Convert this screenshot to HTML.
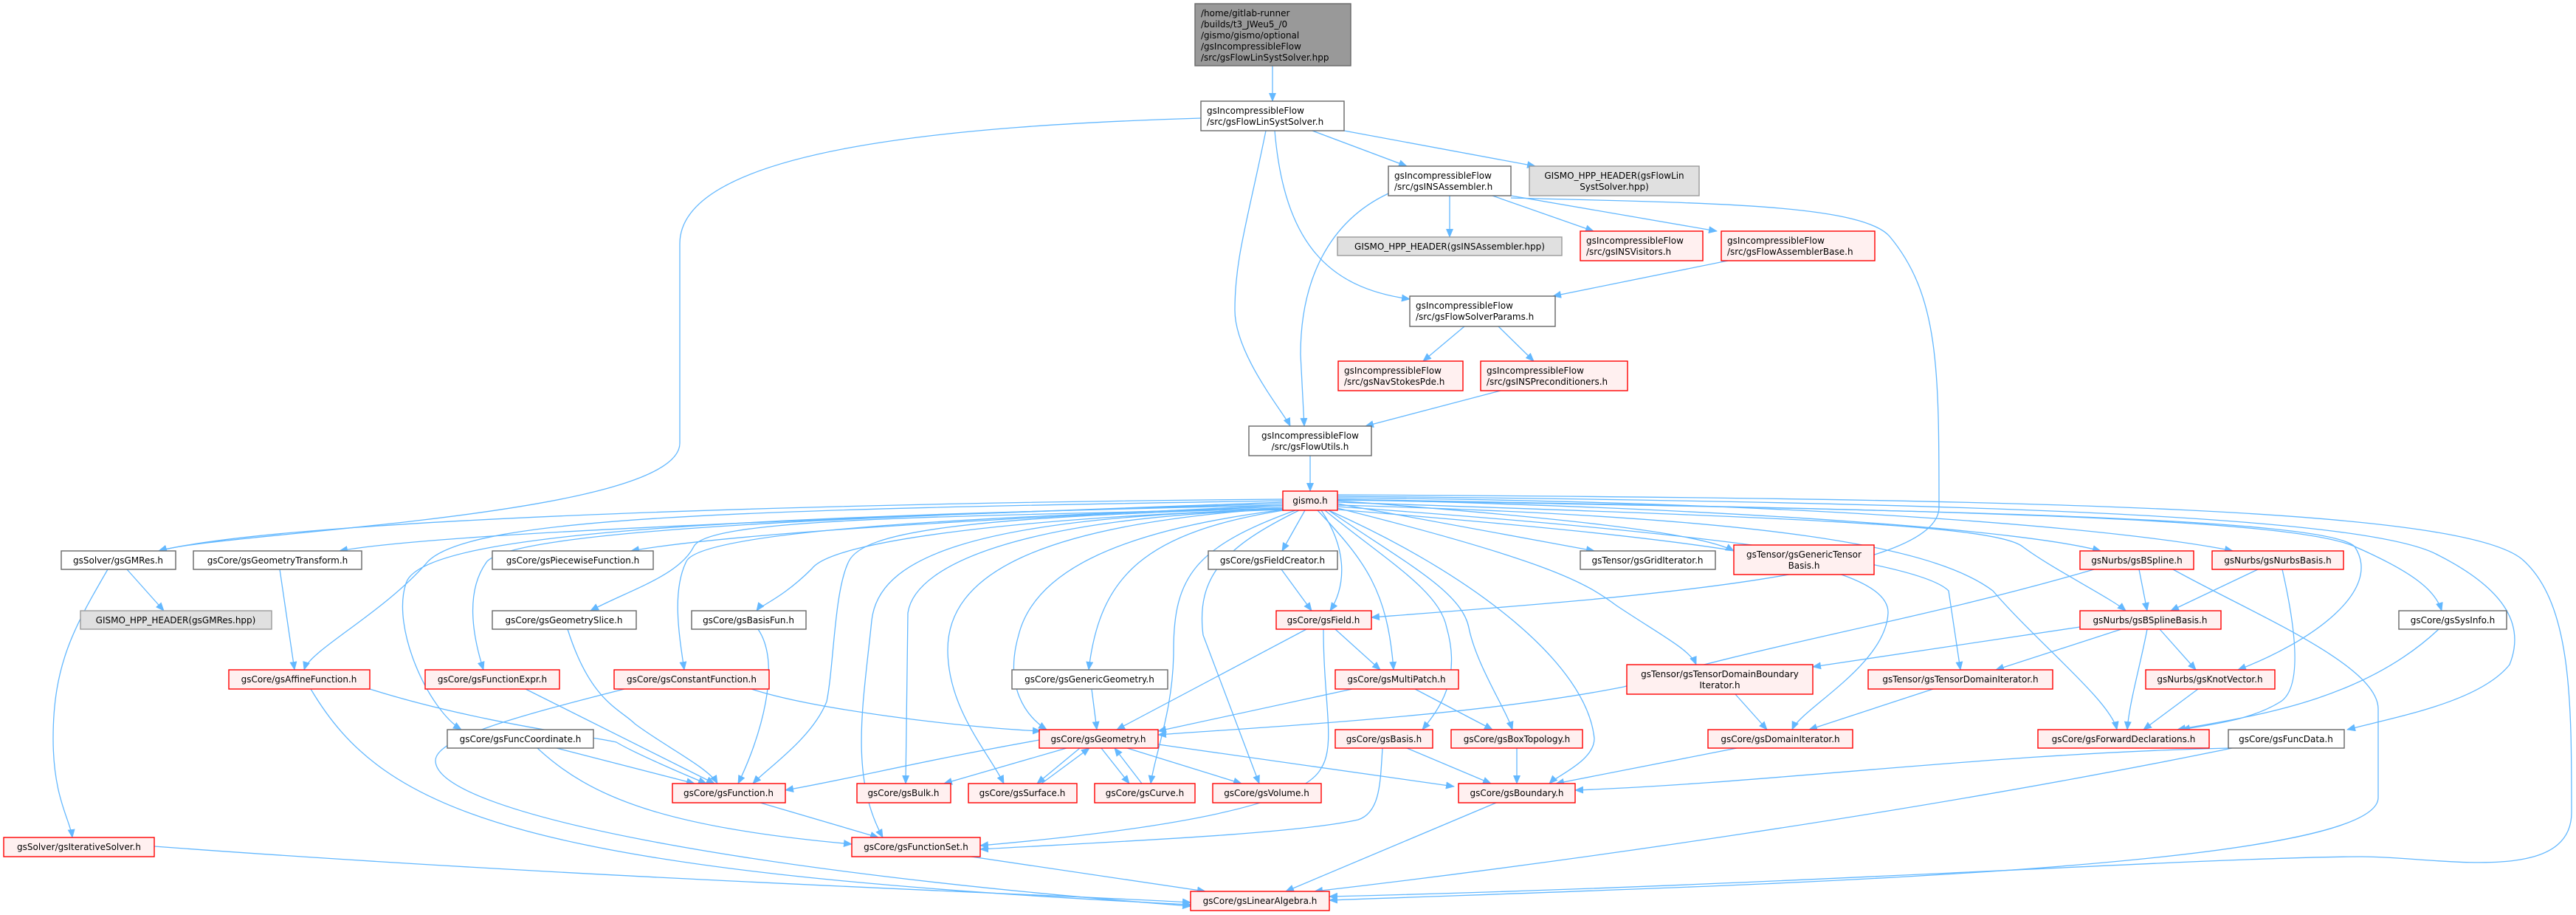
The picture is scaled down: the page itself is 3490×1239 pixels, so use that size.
<!DOCTYPE html>
<html><head><meta charset="utf-8"><style>
html,body{margin:0;padding:0;background:#fff;}
svg{display:block;}
text{font-family:"DejaVu Sans","Liberation Sans",sans-serif;font-size:12px;fill:#000;}
.w{fill:#fff;stroke:#666;stroke-width:1.4}
.r{fill:#fff0f0;stroke:#ff0000;stroke-width:1.4}
.g{fill:#e0e0e0;stroke:#999;stroke-width:1.4}
.t{fill:#999;stroke:#666;stroke-width:1.4}
.e path{fill:none;stroke:#63b8ff;stroke-width:1.3;marker-end:url(#a)}
</style></head><body>
<svg width="3490" height="1239" viewBox="0 0 3490 1239" xmlns="http://www.w3.org/2000/svg">
<defs><marker id="a" markerWidth="12" markerHeight="10" refX="11" refY="5" orient="auto" markerUnits="userSpaceOnUse"><path d="M0,0 L12,5 L0,10 z" fill="#63b8ff"/></marker></defs>
<g class="e">
<path d="M1724,89 L1724,137"/>
<path d="M1627,160 C1300,170 921,200 921,330 L921,600 C921,700 300,720 215,746"/>
<path d="M1715,177 C1690,300 1673,350 1673,420 C1673,480 1740,560 1748,577"/>
<path d="M1727,177 C1740,330 1800,390 1910,405"/>
<path d="M1778,177 L1906,225"/>
<path d="M1821,177 L2080,225"/>
<path d="M1881,262 C1800,300 1762,380 1762,480 L1767,577"/>
<path d="M1964,265 L1964,321"/>
<path d="M2022,265 L2159,313"/>
<path d="M2047,265 L2326,313"/>
<path d="M2047,268 C2300,275 2520,275 2560,320 C2627,400 2627,500 2627,687 C2627,780 2200,810 1858,836"/>
<path d="M2341,353 L2104,401"/>
<path d="M1984,442 L1928,489"/>
<path d="M2030,442 L2078,489"/>
<path d="M2033,529 L1850,577"/>
<path d="M1775,617 L1775,665"/>
<path d="M172,771 L222,827"/>
<path d="M146,771 C100,850 72,900 72,1000 C72,1080 95,1110 98,1134"/>
<path d="M209,1146 C800,1190 1400,1210 1613,1222"/>
<path d="M379,771 L399,907"/>
<path d="M501,933 C650,980 820,1000 835,1005 C860,1020 930,1050 957,1061"/>
<path d="M421,933 C520,1100 700,1180 1613,1225"/>
<path d="M712,933 L968,1061"/>
<path d="M1018,933 C1100,960 1300,985 1410,990"/>
<path d="M846,933 C700,970 590,1000 590,1030 C590,1100 1000,1180 1613,1227"/>
<path d="M769,852 C800,950 840,960 860,980 C900,1010 960,1040 972,1061"/>
<path d="M1027,852 C1060,900 1030,1000 1000,1061"/>
<path d="M754,1013 L941,1061"/>
<path d="M728,1013 C800,1080 900,1120 1154,1143"/>
<path d="M1030,1087 L1190,1134"/>
<path d="M1316,1160 L1633,1207"/>
<path d="M1736,771 L1777,827"/>
<path d="M1770,852 L1513,988"/>
<path d="M1809,852 L1870,907"/>
<path d="M1793,852 C1793,950 1810,1010 1790,1040 C1760,1100 1500,1130 1328,1145"/>
<path d="M1832,933 L1569,990"/>
<path d="M1917,933 L2022,988"/>
<path d="M1479,933 L1486,988"/>
<path d="M1408,1002 C1250,1030 1150,1055 1064,1070"/>
<path d="M1445,1013 L1279,1061"/>
<path d="M1463,1013 L1405,1061"/>
<path d="M1411,1061 L1476,1013"/>
<path d="M1492,1013 L1530,1061"/>
<path d="M1547,1061 L1510,1013"/>
<path d="M1527,1013 L1682,1061"/>
<path d="M1569,1008 L1970,1065"/>
<path d="M1906,1013 L2020,1061"/>
<path d="M1873,1013 C1870,1060 1870,1100 1840,1110 C1750,1130 1500,1140 1328,1150"/>
<path d="M2055,1013 L2055,1061"/>
<path d="M2027,1087 L1742,1207"/>
<path d="M2353,1013 L2108,1061"/>
<path d="M3021,1013 C2700,1020 2400,1060 2134,1070"/>
<path d="M3024,1013 C2600,1100 2100,1170 1781,1207"/>
<path d="M2351,940 L2394,988"/>
<path d="M2619,933 L2451,988"/>
<path d="M2818,849 L2456,903"/>
<path d="M2874,852 L2704,907"/>
<path d="M2926,852 L2975,907"/>
<path d="M2909,852 C2900,900 2885,950 2882,988"/>
<path d="M2978,933 L2904,988"/>
<path d="M3304,852 C3200,950 3050,970 2950,988"/>
<path d="M3059,771 L2941,827"/>
<path d="M3092,771 C3110,850 3120,930 3090,950 C3050,975 3000,980 2956,988"/>
<path d="M2898,771 L2909,827"/>
<path d="M2837,771 C2600,840 2400,870 2200,930 C2000,970 1700,985 1569,995"/>
<path d="M2944,771 C3050,830 3222,900 3222,960 L3222,1080 C3222,1180 2300,1200 1801,1219"/>
<path d="M1738,676 C1200,680 400,700 215,746"/>
<path d="M1738,680 C1200,700 600,720 460,746"/>
<path d="M1740,684 C1400,700 1000,720 855,746"/>
<path d="M1742,688 C1300,700 960,700 940,740 C920,780 850,800 800,827"/>
<path d="M1745,689 C1400,700 1130,730 1100,770 C1060,810 1030,820 1025,827"/>
<path d="M1738,678 C1000,690 640,700 580,760 C520,830 420,880 412,907"/>
<path d="M1740,682 C1100,700 700,720 660,760 C630,800 640,860 655,907"/>
<path d="M1745,686 C1300,700 950,720 930,760 C910,800 920,860 927,907"/>
<path d="M1740,684 C1000,700 570,720 550,790 C530,850 580,960 625,988"/>
<path d="M1745,688 C1300,700 1170,720 1150,760 C1130,800 1130,900 1120,950 C1100,1000 1040,1040 1020,1061"/>
<path d="M1768,691 L1737,746"/>
<path d="M1790,691 C1830,750 1820,800 1802,827"/>
<path d="M1812,682 L2160,746"/>
<path d="M1812,678 C2100,700 2300,720 2349,746"/>
<path d="M1812,676 C2400,690 2750,720 2846,746"/>
<path d="M1812,674 C2500,680 2900,720 3025,746"/>
<path d="M1812,680 C2400,700 2700,710 2740,740 C2780,770 2860,810 2880,827"/>
<path d="M1812,676 C2600,690 3100,700 3190,740 C3270,775 3300,800 3308,827"/>
<path d="M1812,672 C2700,680 3200,700 3300,750 C3400,800 3420,850 3400,900 C3360,950 3250,970 3180,988"/>
<path d="M1812,670 C2800,675 3350,690 3420,760 C3484,820 3484,950 3484,1100 C3484,1200 3300,1160 3200,1160 C3000,1160 2400,1200 1801,1214"/>
<path d="M1812,677 C2600,690 3150,700 3190,740 C3230,800 3130,870 3032,907"/>
<path d="M1812,684 C2400,700 2620,740 2700,800 C2760,870 2860,950 2868,988"/>
<path d="M1812,686 C2300,720 2600,760 2640,800 L2656,907"/>
<path d="M1812,688 C2100,760 2150,790 2190,820 C2250,860 2290,880 2298,900"/>
<path d="M1812,690 C2300,730 2560,760 2558,830 C2555,900 2440,960 2428,988"/>
<path d="M1800,691 C1900,760 1980,800 1990,850 C2000,900 2040,960 2049,988"/>
<path d="M1795,691 C1880,760 1950,800 1960,850 C1980,920 1950,960 1927,988"/>
<path d="M1785,691 C1850,760 1880,800 1888,907"/>
<path d="M1800,691 C2000,780 2150,900 2160,1000 C2160,1030 2110,1050 2099,1061"/>
<path d="M1740,690 C1500,720 1400,780 1380,860 C1360,930 1390,970 1418,988"/>
<path d="M1745,690 C1550,720 1490,780 1475,907"/>
<path d="M1738,690 C1400,700 1240,760 1230,830 L1227,1061"/>
<path d="M1738,688 C1400,710 1284,780 1284,880 C1284,960 1340,1020 1360,1061"/>
<path d="M1755,691 C1620,740 1590,780 1590,880 C1590,960 1565,1020 1559,1061"/>
<path d="M1760,691 C1660,740 1620,780 1630,860 L1706,1061"/>
<path d="M1738,690 C1300,700 1190,760 1181,840 C1170,950 1150,1050 1196,1134"/>
</g>
<!-- nodes -->
<rect class="t" x="1619" y="5" width="211" height="84"/>
<text x="1627" y="22">/home/gitlab-runner</text><text x="1627" y="37">/builds/t3_JWeu5_/0</text><text x="1627" y="52">/gismo/gismo/optional</text><text x="1627" y="67">/gsIncompressibleFlow</text><text x="1627" y="82">/src/gsFlowLinSystSolver.hpp</text>
<rect class="w" x="1627" y="137" width="194" height="40"/>
<text x="1635" y="154">gsIncompressibleFlow</text><text x="1635" y="169">/src/gsFlowLinSystSolver.h</text>
<rect class="w" x="1881" y="225" width="166" height="40"/>
<text x="1889" y="242">gsIncompressibleFlow</text><text x="1889" y="257">/src/gsINSAssembler.h</text>
<rect class="g" x="2072" y="225" width="230" height="40"/>
<text x="2187" y="242" text-anchor="middle">GISMO_HPP_HEADER(gsFlowLin</text><text x="2187" y="257" text-anchor="middle">SystSolver.hpp)</text>
<rect class="g" x="1812" y="321" width="304" height="25"/>
<text x="1964" y="338" text-anchor="middle">GISMO_HPP_HEADER(gsINSAssembler.hpp)</text>
<rect class="r" x="2141" y="313" width="166" height="40"/>
<text x="2149" y="330">gsIncompressibleFlow</text><text x="2149" y="345">/src/gsINSVisitors.h</text>
<rect class="r" x="2332" y="313" width="208" height="40"/>
<text x="2340" y="330">gsIncompressibleFlow</text><text x="2340" y="345">/src/gsFlowAssemblerBase.h</text>
<rect class="w" x="1910" y="401" width="197" height="41"/>
<text x="1918" y="418">gsIncompressibleFlow</text><text x="1918" y="433">/src/gsFlowSolverParams.h</text>
<rect class="r" x="1813" y="489" width="169" height="40"/>
<text x="1821" y="506">gsIncompressibleFlow</text><text x="1821" y="521">/src/gsNavStokesPde.h</text>
<rect class="r" x="2006" y="489" width="199" height="40"/>
<text x="2014" y="506">gsIncompressibleFlow</text><text x="2014" y="521">/src/gsINSPreconditioners.h</text>
<rect class="w" x="1692" y="577" width="166" height="40"/>
<text x="1775" y="594" text-anchor="middle">gsIncompressibleFlow</text><text x="1775" y="609" text-anchor="middle">/src/gsFlowUtils.h</text>
<rect class="r" x="1738" y="665" width="74" height="26"/>
<text x="1775" y="682" text-anchor="middle">gismo.h</text>
<g text-anchor="middle">
<rect class="w" x="83" y="746" width="155" height="25"/><text x="160" y="763">gsSolver/gsGMRes.h</text>
<rect class="w" x="262" y="746" width="228" height="25"/><text x="376" y="763">gsCore/gsGeometryTransform.h</text>
<rect class="w" x="667" y="746" width="218" height="25"/><text x="776" y="763">gsCore/gsPiecewiseFunction.h</text>
<rect class="w" x="1637" y="746" width="175" height="25"/><text x="1724" y="763">gsCore/gsFieldCreator.h</text>
<rect class="w" x="2141" y="746" width="183" height="25"/><text x="2232" y="763">gsTensor/gsGridIterator.h</text>
<rect class="r" x="2349" y="738" width="190" height="40"/><text x="2444" y="755">gsTensor/gsGenericTensor</text><text x="2444" y="770">Basis.h</text>
<rect class="r" x="2818" y="746" width="154" height="25"/><text x="2895" y="763">gsNurbs/gsBSpline.h</text>
<rect class="r" x="2997" y="746" width="178" height="25"/><text x="3086" y="763">gsNurbs/gsNurbsBasis.h</text>
<rect class="g" x="109" y="827" width="259" height="25"/><text x="238" y="844">GISMO_HPP_HEADER(gsGMRes.hpp)</text>
<rect class="w" x="667" y="827" width="195" height="25"/><text x="764" y="844">gsCore/gsGeometrySlice.h</text>
<rect class="w" x="937" y="827" width="155" height="25"/><text x="1014" y="844">gsCore/gsBasisFun.h</text>
<rect class="r" x="1729" y="827" width="129" height="25"/><text x="1793" y="844">gsCore/gsField.h</text>
<rect class="r" x="2818" y="827" width="191" height="25"/><text x="2913" y="844">gsNurbs/gsBSplineBasis.h</text>
<rect class="w" x="3250" y="827" width="146" height="25"/><text x="3323" y="844">gsCore/gsSysInfo.h</text>
<rect class="r" x="310" y="907" width="191" height="26"/><text x="405" y="924">gsCore/gsAffineFunction.h</text>
<rect class="r" x="576" y="907" width="182" height="26"/><text x="667" y="924">gsCore/gsFunctionExpr.h</text>
<rect class="r" x="832" y="907" width="210" height="26"/><text x="937" y="924">gsCore/gsConstantFunction.h</text>
<rect class="w" x="1371" y="907" width="211" height="26"/><text x="1476" y="924">gsCore/gsGenericGeometry.h</text>
<rect class="r" x="1809" y="907" width="167" height="26"/><text x="1892" y="924">gsCore/gsMultiPatch.h</text>
<rect class="r" x="2204" y="900" width="252" height="40"/><text x="2330" y="917">gsTensor/gsTensorDomainBoundary</text><text x="2330" y="932">Iterator.h</text>
<rect class="r" x="2531" y="907" width="250" height="26"/><text x="2656" y="924">gsTensor/gsTensorDomainIterator.h</text>
<rect class="r" x="2907" y="907" width="175" height="26"/><text x="2994" y="924">gsNurbs/gsKnotVector.h</text>
<rect class="w" x="606" y="988" width="198" height="25"/><text x="705" y="1005">gsCore/gsFuncCoordinate.h</text>
<rect class="r" x="1408" y="988" width="161" height="25"/><text x="1488" y="1005">gsCore/gsGeometry.h</text>
<rect class="r" x="1809" y="988" width="132" height="25"/><text x="1875" y="1005">gsCore/gsBasis.h</text>
<rect class="r" x="1966" y="988" width="178" height="25"/><text x="2055" y="1005">gsCore/gsBoxTopology.h</text>
<rect class="r" x="2314" y="988" width="196" height="25"/><text x="2412" y="1005">gsCore/gsDomainIterator.h</text>
<rect class="r" x="2761" y="988" width="232" height="25"/><text x="2877" y="1005">gsCore/gsForwardDeclarations.h</text>
<rect class="w" x="3019" y="988" width="157" height="25"/><text x="3097" y="1005">gsCore/gsFuncData.h</text>
<rect class="r" x="911" y="1061" width="153" height="26"/><text x="987" y="1078">gsCore/gsFunction.h</text>
<rect class="r" x="1161" y="1061" width="127" height="26"/><text x="1224" y="1078">gsCore/gsBulk.h</text>
<rect class="r" x="1312" y="1061" width="147" height="26"/><text x="1385" y="1078">gsCore/gsSurface.h</text>
<rect class="r" x="1483" y="1061" width="136" height="26"/><text x="1551" y="1078">gsCore/gsCurve.h</text>
<rect class="r" x="1643" y="1061" width="147" height="26"/><text x="1716" y="1078">gsCore/gsVolume.h</text>
<rect class="r" x="1976" y="1061" width="158" height="26"/><text x="2055" y="1078">gsCore/gsBoundary.h</text>
<rect class="r" x="5" y="1134" width="204" height="26"/><text x="107" y="1151">gsSolver/gsIterativeSolver.h</text>
<rect class="r" x="1154" y="1134" width="174" height="26"/><text x="1241" y="1151">gsCore/gsFunctionSet.h</text>
<rect class="r" x="1613" y="1207" width="188" height="26"/><text x="1707" y="1224">gsCore/gsLinearAlgebra.h</text>
</g>
</svg>
</body></html>
